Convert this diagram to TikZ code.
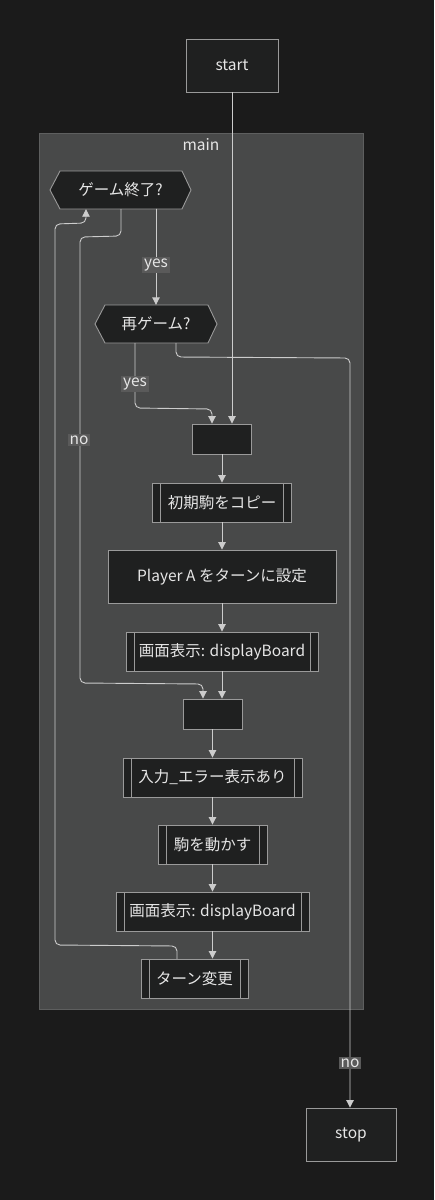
\documentclass[tikz,border=0pt]{standalone}
\usepackage{fontspec}
\setmainfont{Noto Sans CJK JP}
\usepackage{tikz}
\usetikzlibrary{arrows.meta}
\usepackage{xcolor}

\definecolor{bgcol}{HTML}{1B1B1B}
\definecolor{clusterfill}{HTML}{484949}
\definecolor{clusterline}{HTML}{5E5F5F}
\definecolor{nodefill}{HTML}{1F2020}
\definecolor{nodeline}{HTML}{9A9A9A}
\definecolor{flowcol}{HTML}{CCCCCC}
\definecolor{labelfill}{HTML}{5A5A5A}
\definecolor{txtcol}{HTML}{E6E6E6}

\begin{document}
\begin{tikzpicture}[x=1pt,y=-1pt,>={Triangle[length=7.5pt,width=7.5pt]},
  font=\fontsize{15.5}{18}\selectfont,line cap=round,
  box/.style={draw=nodeline,fill=nodefill,text=txtcol,inner sep=0pt,line width=0.9pt},
  subbox/.style={box,path picture={
    \draw[nodeline,line width=0.9pt] ([xshift=8]path picture bounding box.north west) -- ([xshift=8]path picture bounding box.south west);
    \draw[nodeline,line width=0.9pt] ([xshift=-8]path picture bounding box.north east) -- ([xshift=-8]path picture bounding box.south east);}},
  hexbox/.style={draw=nodeline,fill=nodefill,line width=0.9pt},
  flow/.style={->,draw=flowcol,line width=0.9pt,rounded corners=5pt},
  elabel/.style={fill=labelfill,text=txtcol,inner sep=2pt}]
\useasboundingbox (0,0) rectangle (434,1200);
\fill[bgcol] (0,0) rectangle (434,1200);
% cluster main
\draw[clusterline,fill=clusterfill,line width=0.9pt] (39,133) rectangle (363,1009);
\node[text=txtcol] (mainlbl) at (201,145) {main};

\node[box,minimum width=92,minimum height=53] (start) at (232,65.5) {start};
\node[box,minimum width=90,minimum height=53] (stop) at (351,1134.5) {stop};

% decisions
\filldraw[hexbox] (50,190) -- (60,171) -- (182,171) -- (191,190) -- (182,209) -- (60,209) -- cycle;
\node[text=txtcol,minimum width=141,minimum height=38,inner sep=0pt] (gend) at (120.5,190) {ゲーム終了?};
\filldraw[hexbox] (95,324) -- (105,305) -- (208,305) -- (217,324) -- (208,343) -- (105,343) -- cycle;
\node[text=txtcol,minimum width=122,minimum height=38,inner sep=0pt] (again) at (156,324) {再ゲーム?};

% steps
\node[box,minimum width=59,minimum height=30] (join1) at (222,439) {};
\node[subbox,minimum width=139,minimum height=39] (copy) at (222,502.5) {初期駒をコピー};
\node[box,minimum width=228,minimum height=53] (setA) at (222,576.5) {Player A をターンに設定};
\node[subbox,minimum width=192,minimum height=39] (disp1) at (222,651.5) {画面表示: displayBoard};
\node[box,minimum width=59,minimum height=30] (join2) at (212.5,714) {};
\node[subbox,minimum width=179,minimum height=39] (input) at (212.5,777.5) {入力\_エラー表示あり};
\node[subbox,minimum width=109,minimum height=39] (move) at (212.5,844.5) {駒を動かす};
\node[subbox,minimum width=193,minimum height=39] (disp2) at (212.5,911.5) {画面表示: displayBoard};
\node[subbox,minimum width=107,minimum height=39] (turn) at (194.5,978.5) {ターン変更};

% connectors
\draw[flow] (start.south) -- (start.south |- join1.north);
\draw[flow] (again.north |- gend.south) -- (again.north);
\draw[flow] ([xshift=0.5]gend.south) -- (121,236) -- (80,237) -- (80,683) -- (203,684) -- ([xshift=-9.5]join2.north);
\draw[flow] ([xshift=-21]again.south) -- (135,408) -- (212,409) -- ([xshift=-10]join1.north);
\draw[flow] ([xshift=20]again.south) -- (176,357) -- (350,358) -- (stop.north -| 350,0);
\draw[flow] (join1) -- (copy);
\draw[flow] (copy) -- (setA);
\draw[flow] (setA) -- (disp1);
\draw[flow] (disp1.south) -- (disp1.south |- join2.north);
\draw[flow] (join2) -- (input);
\draw[flow] (input) -- (move);
\draw[flow] (move) -- (disp2);
\draw[flow] (disp2.south) -- (disp2.south |- turn.north);
\draw[flow] ([xshift=-17.5]turn.north) -- (177,946) -- (55,945) -- (55,224) -- (86,223) -- ([xshift=-34.5]gend.south);

% edge labels
\node[elabel] (yes1) at (156,265) {yes};
\node[elabel] (yes2) at (135,384) {yes};
\node[elabel] (no1) at (79,440) {no};
\node[elabel] (no2) at (350,1063) {no};
\end{tikzpicture}
\end{document}
